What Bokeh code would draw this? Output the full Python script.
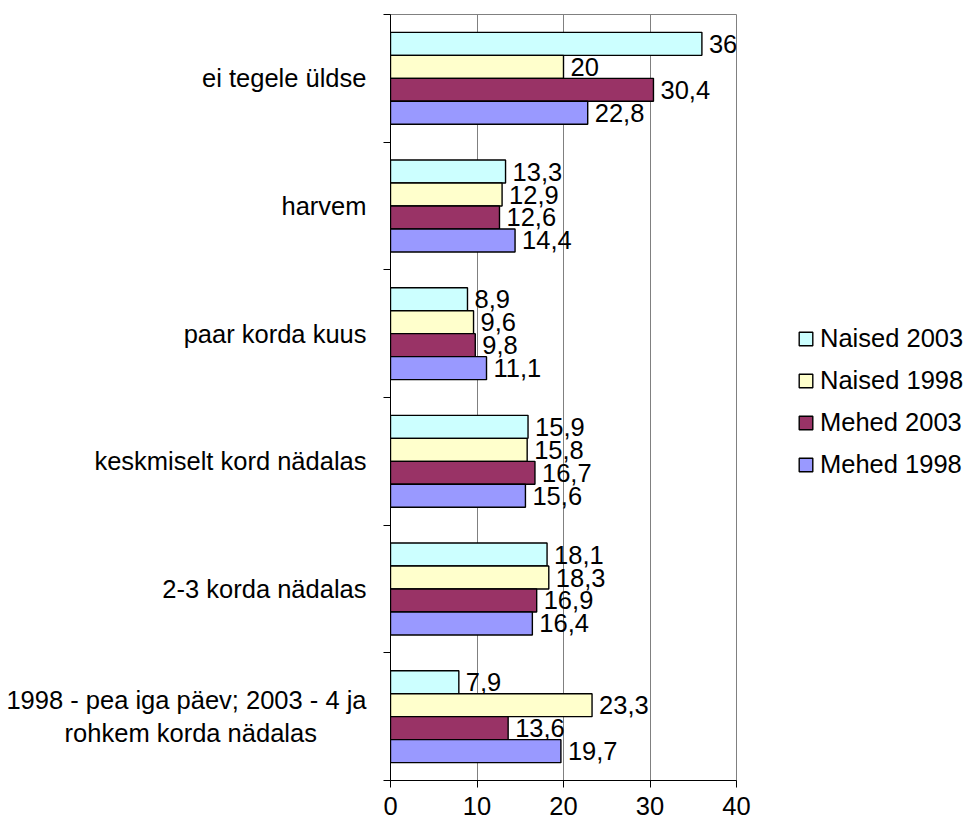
import numpy as np
from bokeh.plotting import figure
from bokeh.models import ColumnDataSource, FixedTicker, Legend, LegendItem, Range1d
from bokeh.core.properties import value
from bokeh.embed import file_html
from bokeh.resources import INLINE

categories = [
    "ei tegele üldse",
    "harvem",
    "paar korda kuus",
    "keskmiselt kord nädalas",
    "2-3 korda nädalas",
    "1998 - pea iga päev; 2003 - 4 ja\nrohkem korda nädalas" + "\u00a0" * 7,
]
series_names = ["Naised 2003", "Naised 1998", "Mehed 2003", "Mehed 1998"]
naised_2003 = [36, 13.3, 8.9, 15.9, 18.1, 7.9]
naised_1998 = [20, 12.9, 9.6, 15.8, 18.3, 23.3]
mehed_2003 = [30.4, 12.6, 9.8, 16.7, 16.9, 13.6]
mehed_1998 = [22.8, 14.4, 11.1, 15.6, 16.4, 19.7]
x_ticks = [0, 10, 20, 30, 40]

series_values = [naised_2003, naised_1998, mehed_2003, mehed_1998]
colors = ["#CCFFFF", "#FFFFCC", "#993366", "#9999FF"]
offsets = [0.27, 0.09, -0.09, -0.27]
FONT = "Liberation Sans"
FS = "25.5px"

n = len(categories)
centers = [n - 0.5 - i for i in range(n)]

p = figure(
    frame_width=346, frame_height=766,
    x_range=Range1d(0, 40), y_range=Range1d(0, n),
    output_backend="svg", toolbar_location=None,
    min_border_left=390, min_border_right=228, min_border_top=14, min_border_bottom=39,
)
p.background_fill_color = "white"
p.border_fill_color = "white"
p.outline_line_color = "#808080"

def fmt(v):
    s = ("%g" % v)
    return s.replace(".", ",")

items = []
for name, vals, col, off in zip(series_names, series_values, colors, offsets):
    src = ColumnDataSource(dict(
        y=[c + off for c in centers],
        x=vals,
        label=[fmt(v) for v in vals],
    ))
    r = p.hbar(y="y", right="x", left=0, height=0.18, source=src,
               fill_color=col, line_color="black", line_width=1.4)
    p.text(x="x", y="y", text="label", source=src, x_offset=7,
           text_baseline="middle", text_align="left",
           text_font=value(FONT), text_font_size=value(FS), text_color="black")
    items.append(LegendItem(label=name, renderers=[r]))

# x axis
xa = p.xaxis[0]
xa.ticker = FixedTicker(ticks=x_ticks, minor_ticks=[])
xa.axis_line_color = "black"
xa.major_tick_line_color = "black"
xa.major_tick_out = 7
xa.major_tick_in = 0
xa.minor_tick_line_color = None
xa.minor_tick_out = 0
xa.minor_tick_in = 0
xa.major_label_standoff = 9
xa.major_label_text_font = FONT
xa.major_label_text_font_size = FS
xa.major_label_text_color = "black"

# y axis
ya = p.yaxis[0]
ya.ticker = FixedTicker(ticks=centers, minor_ticks=list(range(n + 1)))
ya.major_label_overrides = {c: lab for c, lab in zip(centers, categories)}
ya.axis_line_color = "black"
ya.major_tick_line_color = None
ya.major_tick_out = 0
ya.major_tick_in = 0
ya.minor_tick_line_color = "black"
ya.minor_tick_out = 7
ya.minor_tick_in = 0
ya.major_label_standoff = 17
ya.major_label_text_font = FONT
ya.major_label_text_font_size = FS
ya.major_label_text_color = "black"

p.xgrid.grid_line_color = "#808080"
p.xgrid.grid_line_width = 1
p.ygrid.grid_line_color = None

legend = Legend(items=items, location=(61, 301),
                glyph_width=17, glyph_height=17, label_standoff=6,
                label_height=29, spacing=13, padding=0, margin=0,
                border_line_color=None, background_fill_alpha=0,
                label_text_font=FONT, label_text_font_size=FS,
                label_text_color="black")
p.add_layout(legend, "right")

open("out.html", "w").write(file_html(p, INLINE))
